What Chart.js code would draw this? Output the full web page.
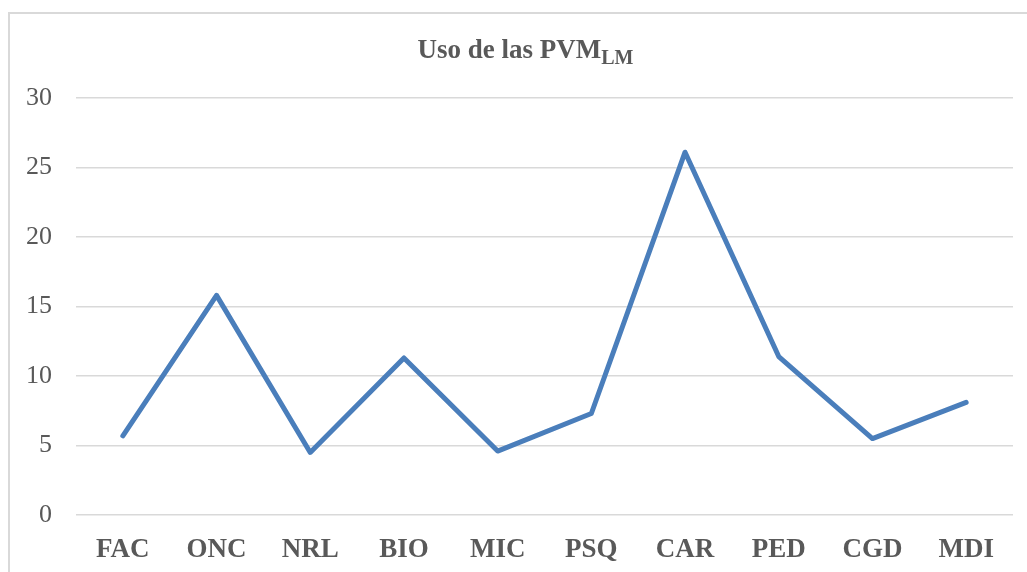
<!DOCTYPE html>
<html>
<head>
<meta charset="utf-8">
<script src="https://cdn.jsdelivr.net/npm/chart.js@4"></script>
<style>
  html, body { margin: 0; padding: 0; background: #fff; }
  #wrap { position: relative; width: 1027px; height: 572px; overflow: hidden; }
  #frame { position: absolute; left: 8px; top: 12px; width: 1040px; height: 600px;
           border-top: 2px solid #d9d9d9; border-left: 2px solid #d9d9d9; }
  canvas { position: absolute; left: 0; top: 0; }
</style>
</head>
<body>
<div id="wrap">
  <div id="frame"></div>
  <canvas id="chart" width="1027" height="572"></canvas>
</div>
<script>
// data
const categories = ['FAC', 'ONC', 'NRL', 'BIO', 'MIC', 'PSQ', 'CAR', 'PED', 'CGD', 'MDI'];
const usage = [5.7, 15.8, 4.5, 11.3, 4.6, 7.3, 26.1, 11.4, 5.5, 8.1];
const titleMain = 'Uso de las PVM';
const titleSub = 'LM';

const textColor = '#595959';
const serif = '"Liberation Serif", "Times New Roman", serif';

// title with subscript, drawn by hand since Chart.js titles have no subscripts
const subTitle = {
    id: 'subTitle',
    afterDraw(chart) {
        const ctx = chart.ctx;
        ctx.save();
        ctx.fillStyle = textColor;
        ctx.textBaseline = 'alphabetic';
        ctx.font = 'bold 27px ' + serif;
        const w1 = ctx.measureText(titleMain).width;
        ctx.font = 'bold 20px ' + serif;
        const w2 = ctx.measureText(titleSub).width;
        const x = chart.width / 2 + 12 - (w1 + w2) / 2;
        ctx.font = 'bold 27px ' + serif;
        ctx.textAlign = 'left';
        ctx.fillText(titleMain, x, 58);
        ctx.font = 'bold 20px ' + serif;
        ctx.fillText(titleSub, x + w1, 64);
        ctx.restore();
    }
};

new Chart(document.getElementById('chart').getContext('2d'), {
    type: 'line',
    data: {
        labels: categories,
        datasets: [{
            label: 'Uso de las PVM',
            data: usage,
            borderColor: '#4a7ebb',
            borderWidth: 5,
            borderCapStyle: 'round',
            borderJoinStyle: 'round',
            pointRadius: 0,
            tension: 0,
            fill: false
        }]
    },
    options: {
        responsive: false,
        animation: false,
        layout: { padding: { top: 98, right: 14, bottom: 0, left: 0 } },
        plugins: {
            legend: { display: false },
            title: { display: false },
            tooltip: { enabled: false }
        },
        scales: {
            x: {
                offset: true,
                grid: { display: false },
                border: { display: false },
                ticks: {
                    color: textColor,
                    font: { family: serif, size: 27, weight: 'bold' },
                    padding: 11,
                    maxRotation: 0
                },
                afterFit(scale) { scale.height = 57; }
            },
            y: {
                min: 0,
                max: 30,
                grid: { color: '#d9d9d9', lineWidth: 1.5, drawTicks: false },
                border: { display: false },
                ticks: {
                    stepSize: 5,
                    color: textColor,
                    font: { family: serif, size: 26 },
                    padding: 24
                },
                afterFit(scale) { scale.width = 76; }
            }
        }
    },
    plugins: [subTitle]
});
</script>
</body>
</html>
